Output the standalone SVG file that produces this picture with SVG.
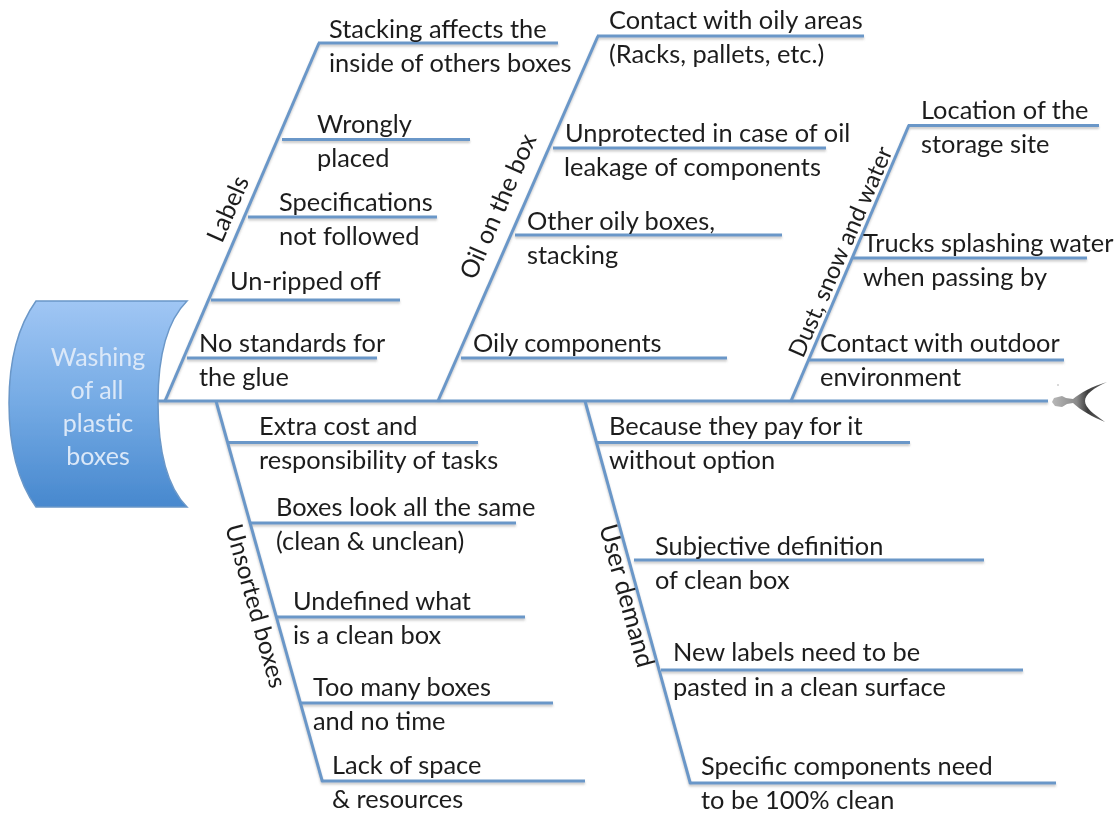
<svg xmlns="http://www.w3.org/2000/svg" width="1116" height="814" viewBox="0 0 1116 814">
<style>
text{font-family:Lato,"Liberation Sans",sans-serif;font-size:25.4px;fill:#1e1e1e}
.h{fill:#dbe8f8;font-size:25px;text-anchor:middle}
.r{font-size:25px}
line{stroke:#6a97c8;stroke-width:3;stroke-linecap:butt}
</style>
<defs>
<linearGradient id="g" x1="0" y1="0" x2="0" y2="1"><stop offset="0" stop-color="#a0c6f4"/><stop offset="0.5" stop-color="#74aae4"/><stop offset="1" stop-color="#4788ce"/></linearGradient>
<linearGradient id="f" x1="0" y1="0" x2="1" y2="0"><stop offset="0" stop-color="#b8b8b8"/><stop offset="0.45" stop-color="#8a8a8a"/><stop offset="0.65" stop-color="#3c3c3c"/><stop offset="1" stop-color="#6a6a6a"/></linearGradient>
<filter id="s" x="-5%" y="-5%" width="110%" height="110%"><feDropShadow dx="0" dy="2" stdDeviation="1" flood-color="#888" flood-opacity="0.45"/></filter>
<filter id="b" x="-1%" y="-1%" width="102%" height="102%"><feGaussianBlur stdDeviation="0.45"/></filter>
</defs>
<g filter="url(#b)">
<g id="connectors" filter="url(#s)">
<line x1="158" y1="401" x2="1048" y2="401"/>
<line x1="165" y1="401" x2="319" y2="43"/><line x1="318" y1="43" x2="558" y2="43"/>
<line x1="282" y1="139.500" x2="470" y2="139.500"/>
<line x1="248" y1="217" x2="437" y2="217"/>
<line x1="211" y1="300" x2="400" y2="300"/>
<line x1="187" y1="358" x2="377" y2="358"/>
<line x1="438" y1="401" x2="598" y2="36"/><line x1="597" y1="36" x2="864" y2="36"/>
<line x1="553" y1="148" x2="826" y2="148"/>
<line x1="515" y1="235" x2="782" y2="235"/>
<line x1="461" y1="358" x2="727" y2="358"/>
<line x1="791" y1="401" x2="909" y2="125"/><line x1="908" y1="125.500" x2="1099" y2="125.500"/>
<line x1="853" y1="258" x2="1087" y2="258"/>
<line x1="809" y1="360" x2="1064" y2="360"/>
<line x1="216" y1="401" x2="322.500" y2="782"/>
<line x1="228" y1="442.500" x2="478" y2="442.500"/>
<line x1="250" y1="523" x2="516" y2="523"/>
<line x1="277" y1="617" x2="525" y2="617"/>
<line x1="301" y1="703" x2="553" y2="703"/>
<line x1="322" y1="781" x2="585" y2="781"/>
<line x1="585" y1="401" x2="690.500" y2="784"/>
<line x1="597" y1="442.500" x2="910" y2="442.500"/>
<line x1="634" y1="560" x2="984" y2="560"/>
<line x1="661" y1="670" x2="1023" y2="670"/>
<line x1="690" y1="783" x2="1056" y2="783"/>
</g>
<g id="head">
<path d="M36 301H187C166 322 158 358 158 402C158 448 166 486 187 507H36C18 482 9 445 9 403C9 360 18 326 36 301Z" fill="url(#g)" stroke="#6a97c8" stroke-width="1.5"/>
<text class="h" x="98" y="366">Washing</text>
<text class="h" x="97" y="399">of all</text>
<text class="h" x="98" y="432">plastic</text>
<text class="h" x="98" y="465">boxes</text>
</g>
<g id="tail">
<path d="M1107 382C1093 386 1080 393 1073 399L1066 398L1062 396L1054 398L1052 402L1055 406L1062 407L1067 404L1073 403C1080 410 1093 417 1105 422C1094 414 1085 408 1085 401C1085 394 1094 388 1107 382Z" fill="url(#f)"/>
<circle cx="1058" cy="385" r="0.800" fill="#aaa"/>
</g>
<g id="labels-branch">
<text x="329" y="38">Stacking affects the</text><text x="329" y="72">inside of others boxes</text>
<text x="317" y="133">Wrongly</text><text x="317" y="167">placed</text>
<text x="279" y="211">Specifications</text><text x="279" y="245">not followed</text>
<text x="230" y="290">Un-ripped off</text>
<text x="199" y="352">No standards for</text><text x="199" y="386">the glue</text>
<text class="r" transform="translate(222 244) rotate(-66.500)">Labels</text>
</g>
<g id="oil-branch">
<text x="609" y="29">Contact with oily areas</text><text x="609" y="63">(Racks, pallets, etc.)</text>
<text x="565" y="142">Unprotected in case of oil</text><text x="564" y="176">leakage of components</text>
<text x="527" y="230">Other oily boxes,</text><text x="527" y="264">stacking</text>
<text x="473" y="352">Oily components</text>
<text class="r" transform="translate(475 281) rotate(-66.500)">Oil on the box</text>
</g>
<g id="dust-branch">
<text x="921" y="119">Location of the</text><text x="921" y="153">storage site</text>
<text x="863" y="252">Trucks splashing water</text><text x="863" y="286">when passing by</text>
<text x="820" y="352">Contact with outdoor</text><text x="820" y="386">environment</text>
<text class="r" style="font-size:23.8px" transform="translate(803 359) rotate(-66.600)">Dust, snow and water</text>
</g>
<g id="unsorted-branch">
<text x="259" y="435">Extra cost and</text><text x="259" y="469">responsibility of tasks</text>
<text x="276" y="516">Boxes look all the same</text><text x="276" y="550">(clean &amp; unclean)</text>
<text x="293" y="610">Undefined what</text><text x="293" y="644">is a clean box</text>
<text x="313" y="696">Too many boxes</text><text x="313" y="730">and no time</text>
<text x="332" y="774">Lack of space</text><text x="332" y="808">&amp; resources</text>
<text class="r" style="font-size:24.5px" transform="translate(225 527) rotate(74.400)">Unsorted boxes</text>
</g>
<g id="user-branch">
<text x="609" y="435">Because they pay for it</text><text x="609" y="469">without option</text>
<text x="655" y="555">Subjective definition</text><text x="655" y="589">of clean box</text>
<text x="673" y="661">New labels need to be</text><text x="673" y="696">pasted in a clean surface</text>
<text x="701" y="775">Specific components need</text><text x="701" y="809">to be 100% clean</text>
<text class="r" style="font-size:25.4px" transform="translate(599 527) rotate(74.700)">User demand</text>
</g>
</g>
</svg>
